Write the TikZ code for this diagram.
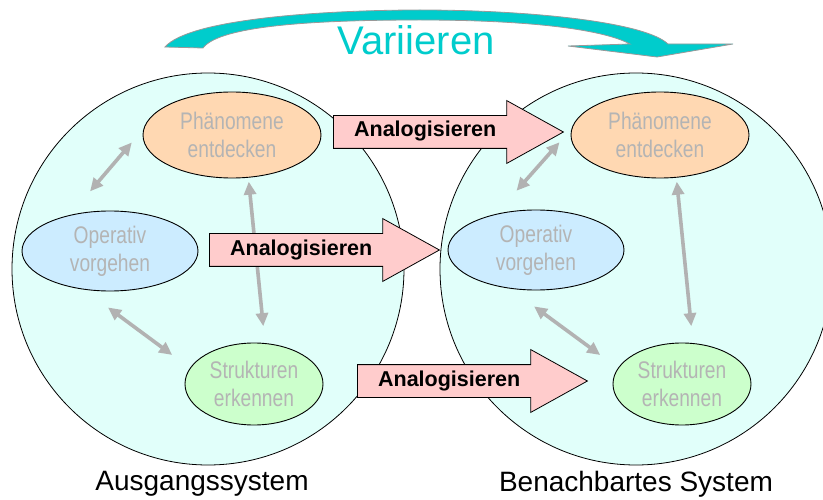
\documentclass[tikz,border=0pt]{standalone}
\usepackage{fontspec}
\setmainfont{Liberation Sans}
\newfontfamily\narrowfont[FakeStretch=0.8]{Liberation Sans}
\usetikzlibrary{arrows.meta, shapes.geometric, shapes.arrows, positioning}

\definecolor{systemfill}{RGB}{225,255,250}
\definecolor{phenofill}{RGB}{255,216,178}
\definecolor{operfill}{RGB}{204,236,255}
\definecolor{structfill}{RGB}{204,255,204}
\definecolor{analogfill}{RGB}{255,204,204}
\definecolor{variteal}{RGB}{0,204,204}
\definecolor{innertext}{RGB}{180,180,180}
\definecolor{linkgray}{RGB}{178,178,178}

\begin{document}
\begin{tikzpicture}
  [
  x=1pt, y=-1pt,
  every label/.style={font=\fontsize{28}{32}\selectfont},
  system/.style={circle, draw=black, line width=0.8pt, fill=systemfill, minimum size=392pt, inner sep=0pt},
  activity/.style={ellipse, draw=black, line width=0.9pt, align=center, inner sep=0pt,
                   text=innertext, font=\narrowfont\fontsize{24}{28}\selectfont},
  pheno/.style={activity, fill=phenofill, minimum width=178pt, minimum height=86pt},
  oper/.style={activity, fill=operfill, minimum width=176pt, minimum height=80pt},
  struct/.style={activity, fill=structfill, minimum width=138pt, minimum height=82pt},
  link/.style={{Triangle[length=13pt,width=12pt]}-{Triangle[length=13pt,width=12pt]},
               draw=linkgray, line width=3.6pt},
  analog/.style={single arrow, draw=black, line width=0.8pt, fill=analogfill, anchor=tail,
                 font=\bfseries\fontsize{21.5}{24}\selectfont, text height=15pt, text depth=5pt,
                 text width=159pt, align=left,
                 inner ysep=6pt, single arrow head extend=15pt, single arrow tip angle=58,
                 minimum height=230pt}
  ]
  \useasboundingbox (0,0) rectangle (823,500);

  \node[system, label={[label distance=2pt, xshift=-6pt]below:Ausgangssystem}] (sysA)  at (208,269) {};
  \node[pheno]                                                          (phA)   at (232,135) {Phänomene\\entdecken};
  \node[oper]                                                           (opA)   at (110,251) {Operativ\\vorgehen};
  \node[struct]                                                         (stA)   at (254,384) {Strukturen\\erkennen};

\begin{scope}[shift={(428,0)}]
  \node[system, label={[label distance=2pt]below:Benachbartes System}]  (sysB)  at (208,269) {};
  \node[pheno]                                                          (phB)   at (232,135) {Phänomene\\entdecken};
  \node[oper]                                                           (opB)   at (108,250) {Operativ\\vorgehen};
  \node[struct]                                                         (stB)   at (254,384) {Strukturen\\erkennen};
\end{scope}

  \foreach \s in {A,B} {
    \draw[link, shorten <=31pt, shorten >=18pt] (op\s.138) -- (ph\s.176);
    \draw[link, shorten <=4pt,  shorten >=17pt] (ph\s.291) -- (st\s.75);
    \draw[link, shorten <=30pt, shorten >=22pt] (op\s.236) -- (st\s.166);
  }

  \node[analog] (an1) at (333,132) {Analogisieren};
  \node[analog] (an2) at (209,250) {Analogisieren};
  \node[analog] (an3) at (357,381) {Analogisieren};

  % curved arrow over both systems
  \filldraw[draw=gray!80, fill=variteal, line width=0.8pt]
    (165,47) .. controls (190,18) and (330,10) .. (420,10)
             .. controls (530,10) and (645,22) .. (668,44)
    -- (733,44) -- (657,57) -- (568,46) -- (630,44)
             .. controls (600,28) and (520,20) .. (420,20)
             .. controls (320,20) and (220,25) .. (203,48) -- cycle;
  \node[text=variteal, font=\fontsize{40}{44}\selectfont] (vary) at (416,40) {Variieren};
\end{tikzpicture}
\end{document}
